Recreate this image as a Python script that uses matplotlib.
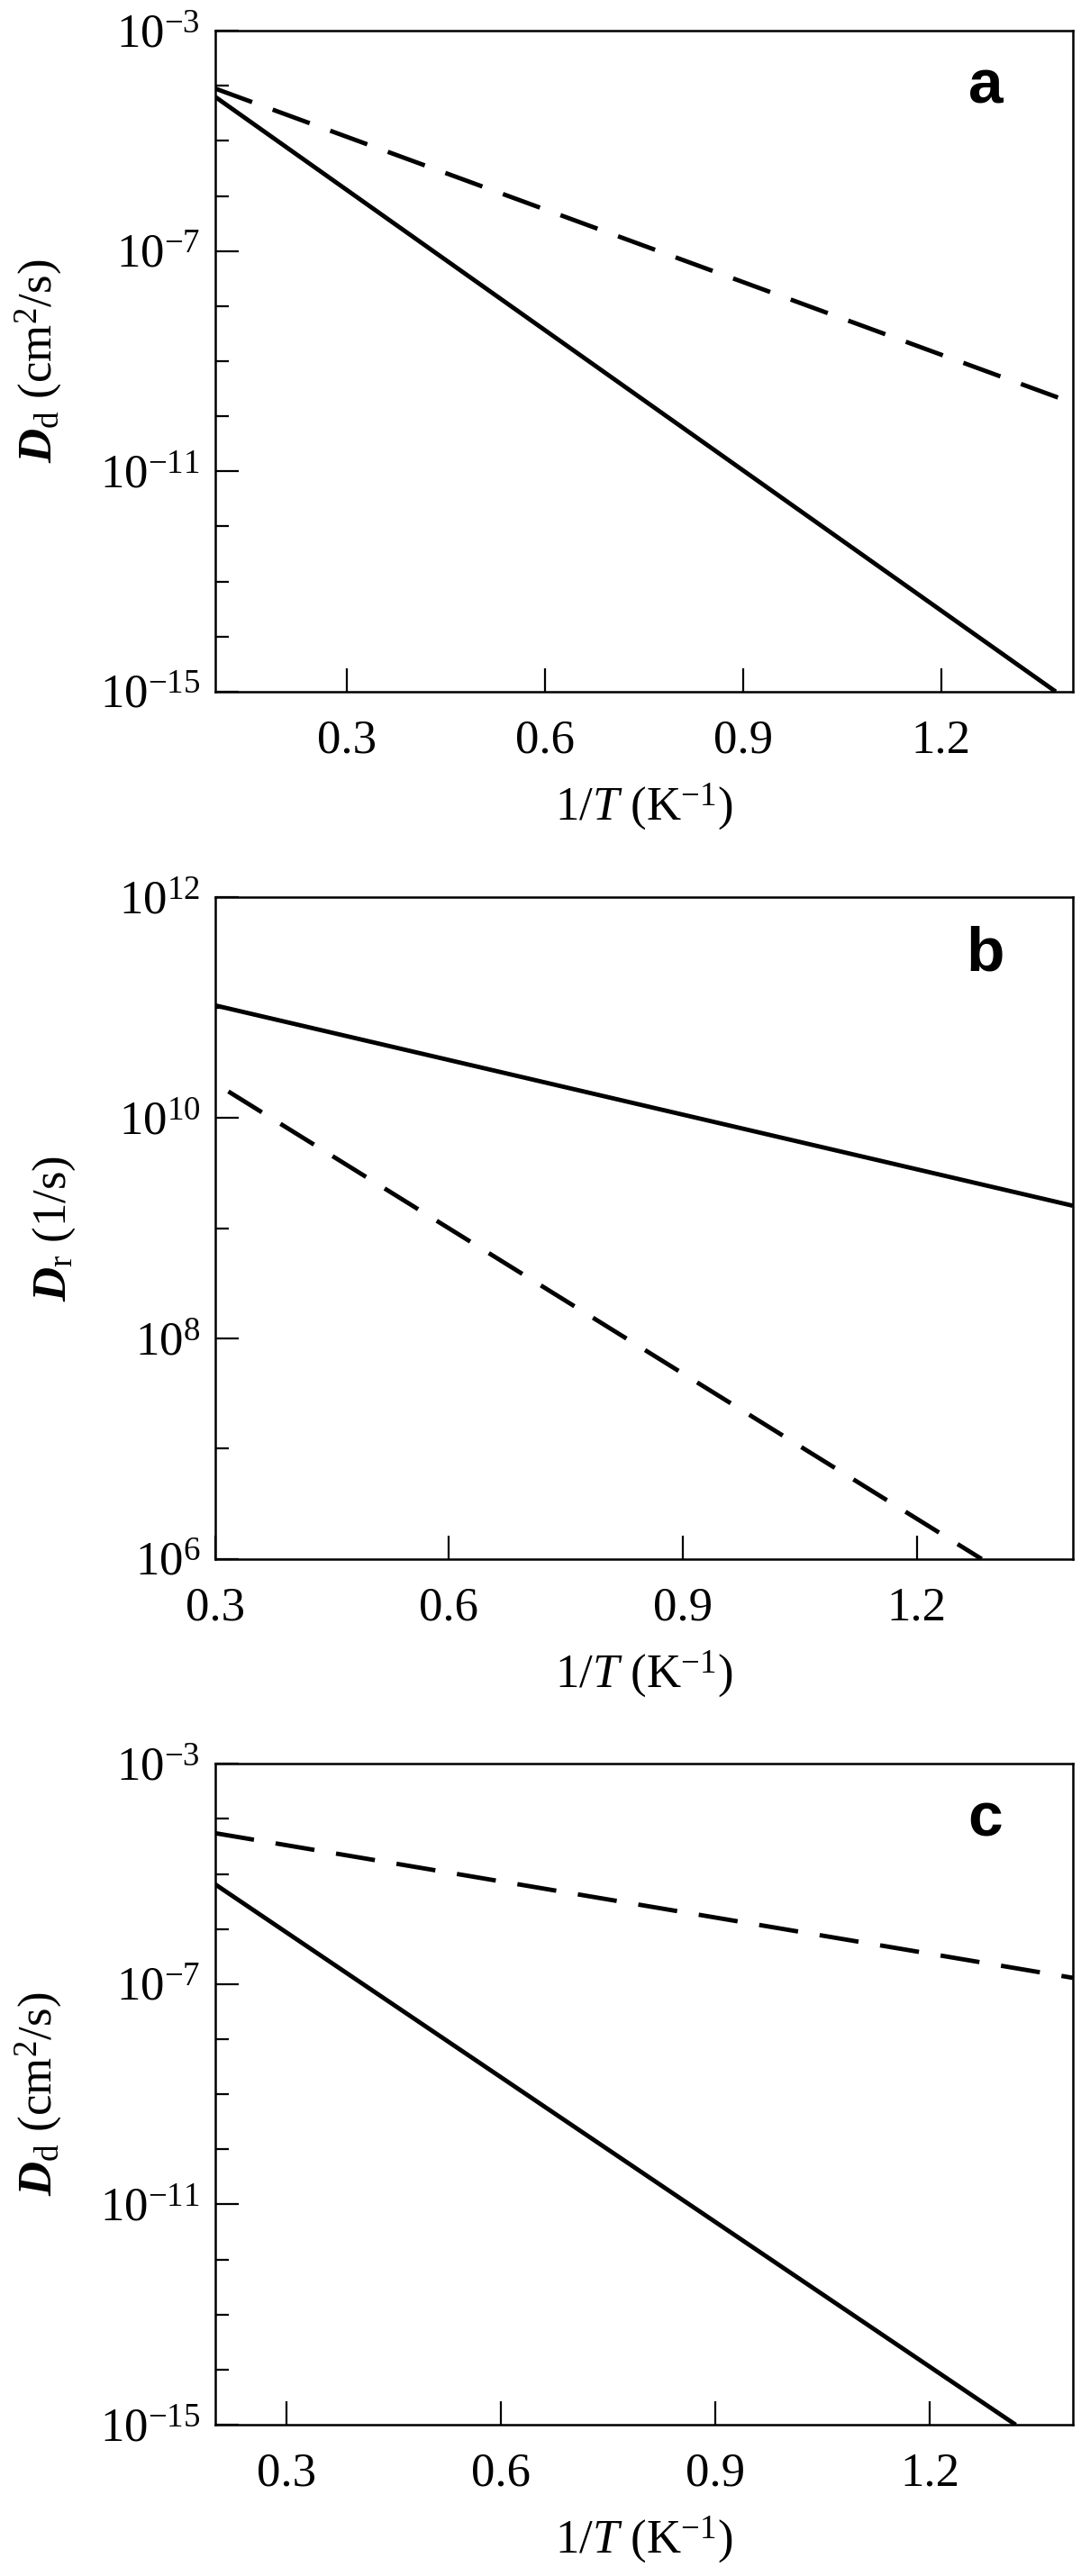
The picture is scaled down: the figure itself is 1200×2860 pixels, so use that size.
import numpy as np
import matplotlib.pyplot as plt
from matplotlib.ticker import FixedLocator, LogFormatterMathtext, NullFormatter

#Fonts: Times-like text, bold italic D in the y labels
plt.rcParams['font.family'] = ['Liberation Serif', 'DejaVu Serif']
plt.rcParams['mathtext.fontset'] = 'custom'
plt.rcParams['mathtext.rm'] = 'Liberation Serif'
plt.rcParams['mathtext.it'] = 'Liberation Serif:italic'
plt.rcParams['mathtext.bf'] = 'Liberation Serif:bold:italic'

#Panel a data (1/T in K^-1, D_d in cm^2/s)
a_solid_x = [0.10, 1.374]
a_solid_y = [6.3e-5, 1.0e-15]
a_dash_x = [0.10, 1.40]
a_dash_y = [8.9e-5, 1.74e-10]

#Panel b data (D_r in 1/s)
b_solid_x = [0.30, 1.40]
b_solid_y = [1.05e11, 1.6e9]
b_dash_x = [0.317, 1.283]
b_dash_y = [1.74e10, 1.0e6]

#Panel c data
c_solid_x = [0.20, 1.32]
c_solid_y = [6.5e-6, 1.0e-15]
c_dash_x = [0.20, 1.40]
c_dash_y = [5.5e-5, 1.3e-7]

x_ticks = [0.3, 0.6, 0.9, 1.2]
x_ticklabels = ['0.3', '0.6', '0.9', '1.2']

#Axes positions in figure fraction (left, bottom, width, height)
fig = plt.figure(figsize=(12, 28.6), dpi=100)
ax_a = fig.add_axes([0.199, 0.7315, 0.7935, 0.2566])
ax_b = fig.add_axes([0.199, 0.3948, 0.7935, 0.2568])
ax_c = fig.add_axes([0.199, 0.0587, 0.7935, 0.2566])

lw = 3.5
dash = (9, 5)

ax_a.plot(a_solid_x, a_solid_y, color='black', lw=lw, solid_capstyle='butt')
ax_a.plot(a_dash_x, a_dash_y, color='black', lw=lw, dashes=dash)
ax_b.plot(b_solid_x, b_solid_y, color='black', lw=lw, solid_capstyle='butt')
ax_b.plot(b_dash_x, b_dash_y, color='black', lw=lw, dashes=dash)
ax_c.plot(c_solid_x, c_solid_y, color='black', lw=lw, solid_capstyle='butt')
ax_c.plot(c_dash_x, c_dash_y, color='black', lw=lw, dashes=dash)


def style_axis(ax, xlim, ylim, major, minor, ylabel, letter, ylab_x):
    #Common styling for the three panels
    ax.set_yscale('log')
    ax.set_xlim(xlim)
    ax.set_ylim(ylim)
    ax.set_xticks(x_ticks)
    ax.set_xticklabels(x_ticklabels)
    ax.yaxis.set_major_locator(FixedLocator(major))
    ax.yaxis.set_minor_locator(FixedLocator(minor))
    ax.yaxis.set_major_formatter(LogFormatterMathtext())
    ax.yaxis.set_minor_formatter(NullFormatter())
    ax.tick_params(which='both', direction='in', top=False, right=False, labelsize=38, width=1.6)
    ax.tick_params(which='major', length=19)
    ax.tick_params(which='minor', length=10.5)
    ax.tick_params(axis='x', pad=22)
    ax.tick_params(axis='y', pad=12)
    for s in ax.spines.values():
        s.set_linewidth(1.8)
    ax.set_xlabel(r'1/$T$ (K$^{-1}$)', fontsize=38)
    ax.xaxis.set_label_coords(0.5, -0.135)
    ax.set_ylabel(ylabel, fontsize=38)
    ax.yaxis.set_label_coords(ylab_x, 0.5)
    ax.text(0.898, 0.89, letter, transform=ax.transAxes, ha='center', va='baseline',
            fontsize=50, fontweight='bold', family='Liberation Sans')


dec_a = [10.0**k for k in range(-15, -2)]
style_axis(ax_a, (0.1, 1.4), (1e-15, 1e-3), [1e-15, 1e-11, 1e-7, 1e-3], dec_a,
           r'$\mathbf{D}_{\mathrm{d}}$ (cm$^2$/s)', 'a', -0.176)

dec_b = [10.0**k for k in range(6, 13)]
style_axis(ax_b, (0.3, 1.4), (1e6, 1e12), [1e6, 1e8, 1e10, 1e12], dec_b,
           r'$\mathbf{D}_{\mathrm{r}}$ (1/s)', 'b', -0.160)

style_axis(ax_c, (0.2, 1.4), (1e-15, 1e-3), [1e-15, 1e-11, 1e-7, 1e-3], dec_a,
           r'$\mathbf{D}_{\mathrm{d}}$ (cm$^2$/s)', 'c', -0.176)

plt.savefig('out.png', dpi=100)
